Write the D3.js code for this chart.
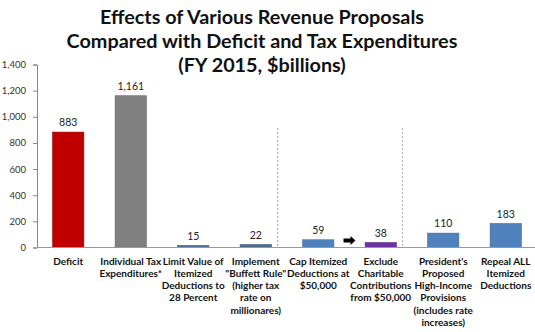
<!DOCTYPE html>
<html>
<head>
<meta charset="utf-8">
<script src="https://cdn.jsdelivr.net/npm/d3@7"></script>
<style>
  body { margin: 0; background: #fff; }
  text { font-family: Lato, "Open Sans", sans-serif; }
</style>
</head>
<body>
<script>
let width = 535;
let height = 332;

// data
let categories = ["Deficit", "Individual Tax", "Limit", "Buffett", "Cap", "Exclude", "President", "Repeal"];
let labelLines = [
  ["Deficit"],
  ["Individual Tax", "Expenditures*"],
  ["Limit Value of", "Itemized", "Deductions to", "28 Percent"],
  ["Implement", "\"Buffett Rule\"", "(higher tax", "rate on", "millionares)"],
  ["Cap Itemized", "Deductions at", "$50,000"],
  ["Exclude", "Charitable", "Contributions", "from $50,000"],
  ["President's", "Proposed", "High-Income", "Provisions", "(includes rate", "increases)"],
  ["Repeal ALL", "Itemized", "Deductions"]
];
let values = [883, 1161, 15, 22, 59, 38, 110, 183];
let barColors = ["#C00000", "#808080", "#4F6A90", "#4F6A90", "#4F81BD", "#7030A0", "#4F81BD", "#4F81BD"];
let yTicks = [0, 200, 400, 600, 800, 1000, 1200, 1400];
let titleLines = ["Effects of Various Revenue Proposals", "Compared with Deficit and Tax Expenditures", "(FY 2015, $billions)"];
let dividersBefore = ["Cap", "President"];

let svg = d3.select("body").append("svg")
  .attr("width", width)
  .attr("height", height);

let x = d3.scaleBand().domain(categories).range([37, 537]).paddingInner(0.5).paddingOuter(0.25);
let y = d3.scaleLinear().domain([0, 1400]).range([247.5, 64.5]);

// title
svg.append("g").selectAll("text").data(titleLines).enter().append("text")
  .attr("x", 262)
  .attr("y", (d, i) => 24 + i * 24)
  .attr("text-anchor", "middle")
  .attr("font-size", 19.8)
  .attr("font-weight", "bold")
  .attr("fill", "#111")
  .text(d => d);

// y axis
let yAxis = svg.append("g")
  .attr("transform", "translate(37,0)")
  .call(d3.axisLeft(y).tickValues(yTicks).tickFormat(d3.format(",")).tickSize(4).tickPadding(7));
yAxis.select(".domain").attr("stroke", "#888");
yAxis.selectAll(".tick line").attr("stroke", "#888");
yAxis.selectAll(".tick text").attr("font-size", 9.5).attr("fill", "#333").attr("font-family", "Lato, sans-serif");

// dotted dividers
svg.append("g").selectAll("line").data(dividersBefore).enter().append("line")
  .attr("x1", d => x(d) - 0.4 * x.step())
  .attr("x2", d => x(d) - 0.4 * x.step())
  .attr("y1", 128)
  .attr("y2", y(0))
  .attr("stroke", "#aaa")
  .attr("stroke-width", 1)
  .attr("stroke-dasharray", "2,2");

// bars
svg.append("g").selectAll("rect").data(values).enter().append("rect")
  .attr("x", (d, i) => x(categories[i]))
  .attr("y", d => y(d))
  .attr("width", x.bandwidth())
  .attr("height", d => y(0) - y(d))
  .attr("fill", (d, i) => barColors[i])
  .attr("stroke", (d, i) => d3.color(barColors[i]).darker(0.6))
  .attr("stroke-width", 0.6);

// x axis line
svg.append("line")
  .attr("x1", 37).attr("x2", width)
  .attr("y1", y(0)).attr("y2", y(0))
  .attr("stroke", "#999");

// value labels
svg.append("g").selectAll("text").data(values).enter().append("text")
  .attr("x", (d, i) => x(categories[i]) + x.bandwidth() / 2)
  .attr("y", d => y(d) - 6)
  .attr("text-anchor", "middle")
  .attr("font-size", 10.5)
  .attr("fill", "#222")
  .text(d => d3.format(",")(d));

// arrow between Cap and Exclude
let ax = (x("Cap") + x("Exclude") + x.bandwidth()) / 2;
let ay = 240.5;
svg.append("path")
  .attr("d", `M${ax - 6},${ay - 2} L${ax + 1},${ay - 2} L${ax + 1},${ay - 4.5} L${ax + 6},${ay} L${ax + 1},${ay + 4.5} L${ax + 1},${ay + 2} L${ax - 6},${ay + 2} Z`)
  .attr("fill", "#000");

// category labels
let catGroups = svg.append("g").selectAll("text").data(categories).enter().append("text")
  .attr("x", d => x(d) + x.bandwidth() / 2)
  .attr("y", 264.5)
  .attr("text-anchor", "middle")
  .attr("font-size", 10)
  .attr("font-weight", "bold")
  .attr("fill", "#111");
catGroups.each(function(d, i) {
  d3.select(this).selectAll("tspan").data(labelLines[i]).enter().append("tspan")
    .attr("x", x(d) + x.bandwidth() / 2)
    .attr("dy", (t, j) => j === 0 ? 0 : 12.3)
    .text(t => t);
});
</script>
</body>
</html>
